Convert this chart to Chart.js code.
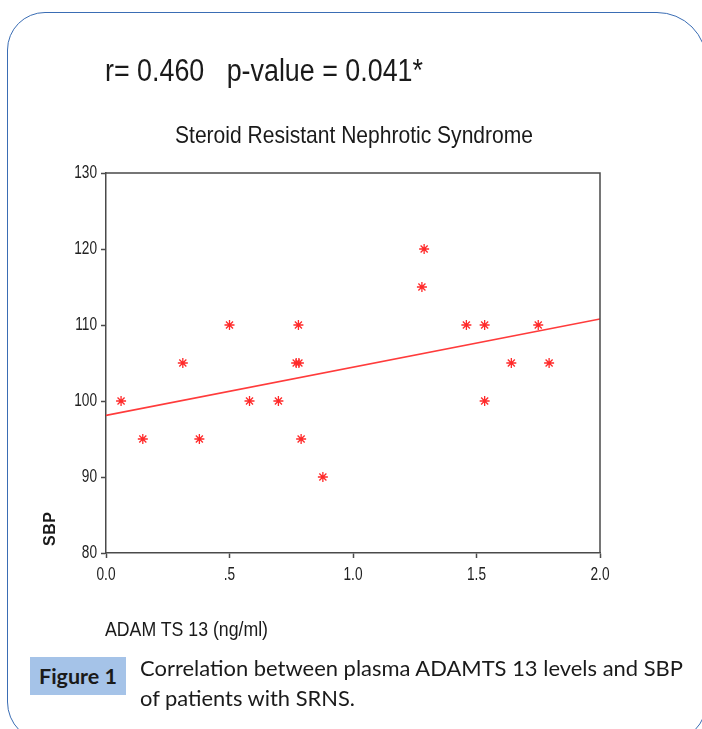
<!DOCTYPE html>
<html>
<head>
<meta charset="utf-8">
<script src="https://cdn.jsdelivr.net/npm/chart.js@4/dist/chart.umd.min.js"></script>
<style>
  html, body { margin: 0; padding: 0; background: #fff; }
  body { width: 702px; height: 729px; position: relative; overflow: hidden; }
  .card {
    position: absolute; left: 7px; top: 12px; width: 700px; height: 730px;
    border: 1.5px solid #3a6db4; border-radius: 38px 50px 40px 40px; box-sizing: border-box;
  }
  canvas { position: absolute; left: 0; top: 0; }
  .txt { position: absolute; white-space: nowrap; transform-origin: 0 50%; color: #1a1a1a; line-height: 1; }
  .narrow { font-family: "Liberation Sans", Arial, sans-serif; }
  .cap { font-family: Lato, "Open Sans", sans-serif; color: #1a1a1a; }
  .fig {
    position: absolute; left: 30px; top: 657px; width: 96px; height: 38px; background: #a5c3e8;
  }
</style>
</head>
<body>
<div class="card"></div>
<canvas id="chart" width="702" height="729"></canvas>
<div class="txt narrow" data-w="318" style="left:105px; top:55px; font-size:31px;">r= 0.460&nbsp;&nbsp; p-value = 0.041*</div>
<div class="txt narrow" data-w="358" style="left:175px; top:123px; font-size:24px;">Steroid Resistant Nephrotic Syndrome</div>
<div class="txt narrow" data-w="163" style="left:105px; top:619px; font-size:20px;">ADAM TS 13 (ng/ml)</div>
<div class="txt" style="left:42px; top:546px; font-family:'Liberation Sans', Arial, sans-serif; font-weight:bold; font-size:16px; letter-spacing:0.5px; transform:rotate(-90deg); transform-origin:0 0;">SBP</div>
<div class="fig"></div>
<div class="txt cap" data-w="78" style="left:39px; top:666px; font-size:20px; font-weight:bold;">Figure 1</div>
<div class="txt cap" data-w="543" style="left:140px; top:657px; font-size:21px;">Correlation between plasma ADAMTS 13 levels and SBP</div>
<div class="txt cap" data-w="215" style="left:140px; top:687px; font-size:21px;">of patients with SRNS.</div>
<script>
const adamts13 = [0.061, 0.149, 0.311, 0.378, 0.5, 0.581, 0.698, 0.770, 0.781, 0.779, 0.790, 0.878,
  1.279, 1.288, 1.459, 1.533, 1.533, 1.641, 1.750, 1.794];
const sbp = [100, 95, 105, 95, 110, 100, 100, 105, 105, 110, 95, 90,
  115, 120, 110, 110, 100, 105, 110, 105];
const fitX = [0, 2];
const fitY = [98.1, 110.8];
const xTicks = [0, 0.5, 1, 1.5, 2];
const xTickLabels = ['0.0', '.5', '1.0', '1.5', '2.0'];
const yTicks = [80, 90, 100, 110, 120, 130];

// squeeze text to the width it has in the picture
document.querySelectorAll('[data-w]').forEach((el) => {
  const w = el.getBoundingClientRect().width;
  el.style.transform = 'scaleX(' + (Number(el.dataset.w) / w) + ')';
});

const axisColor = '#4a4a4a';
const labelFont = '18px "Liberation Sans", Arial, sans-serif';

// box edges + condensed tick labels (the SPSS look)
const frame = {
  id: 'frame',
  afterDraw(chart) {
    const { ctx, chartArea: a } = chart;
    const xs = chart.scales.x;
    const ys = chart.scales.y;
    ctx.save();
    ctx.strokeStyle = axisColor;
    ctx.lineWidth = 1.5;
    ctx.beginPath();
    ctx.moveTo(a.left, a.top);
    ctx.lineTo(a.right, a.top);
    ctx.lineTo(a.right, a.bottom);
    ctx.stroke();

    ctx.fillStyle = '#222';
    ctx.font = labelFont;
    ctx.textBaseline = 'middle';
    yTicks.forEach((v) => {
      ctx.save();
      ctx.translate(a.left - 9, ys.getPixelForValue(v));
      ctx.scale(0.76, 1);
      ctx.textAlign = 'right';
      ctx.fillText(String(v), 0, 0);
      ctx.restore();
    });
    xTicks.forEach((v, i) => {
      ctx.save();
      ctx.translate(xs.getPixelForValue(v), a.bottom + 22);
      ctx.scale(0.76, 1);
      ctx.textAlign = 'center';
      ctx.fillText(xTickLabels[i], 0, 0);
      ctx.restore();
    });
    ctx.restore();
  },
};

new Chart(document.getElementById('chart'), {
  type: 'scatter',
  data: {
    datasets: [
      {
        data: adamts13.map((x, i) => ({ x, y: sbp[i] })),
        pointStyle: 'star',
        pointRadius: 5,
        borderColor: '#ff2a2a',
        backgroundColor: '#ff2a2a',
        borderWidth: 1.3,
      },
      {
        type: 'line',
        data: fitX.map((x, i) => ({ x, y: fitY[i] })),
        borderColor: '#ff3b3b',
        borderWidth: 1.6,
        pointRadius: 0,
        fill: false,
      },
    ],
  },
  options: {
    responsive: false,
    animation: false,
    layout: { padding: { left: 56, top: 173, right: 102, bottom: 146 } },
    plugins: { legend: { display: false }, tooltip: { enabled: false } },
    scales: {
      x: {
        type: 'linear',
        min: 0,
        max: 2,
        afterBuildTicks: (scale) => { scale.ticks = xTicks.map((v) => ({ value: v })); },
        afterFit: (scale) => { scale.height = 30; },
        ticks: { display: false },
        grid: { drawOnChartArea: false, drawTicks: true, tickLength: 5, color: axisColor, tickWidth: 1.5 },
        border: { display: true, color: axisColor, width: 1.5 },
      },
      y: {
        type: 'linear',
        min: 80,
        max: 130,
        afterBuildTicks: (scale) => { scale.ticks = yTicks.map((v) => ({ value: v })); },
        afterFit: (scale) => { scale.width = 50; },
        ticks: { display: false },
        grid: { drawOnChartArea: false, drawTicks: true, tickLength: 5, color: axisColor, tickWidth: 1.5 },
        border: { display: true, color: axisColor, width: 1.5 },
      },
    },
  },
  plugins: [frame],
});
</script>
</body>
</html>
